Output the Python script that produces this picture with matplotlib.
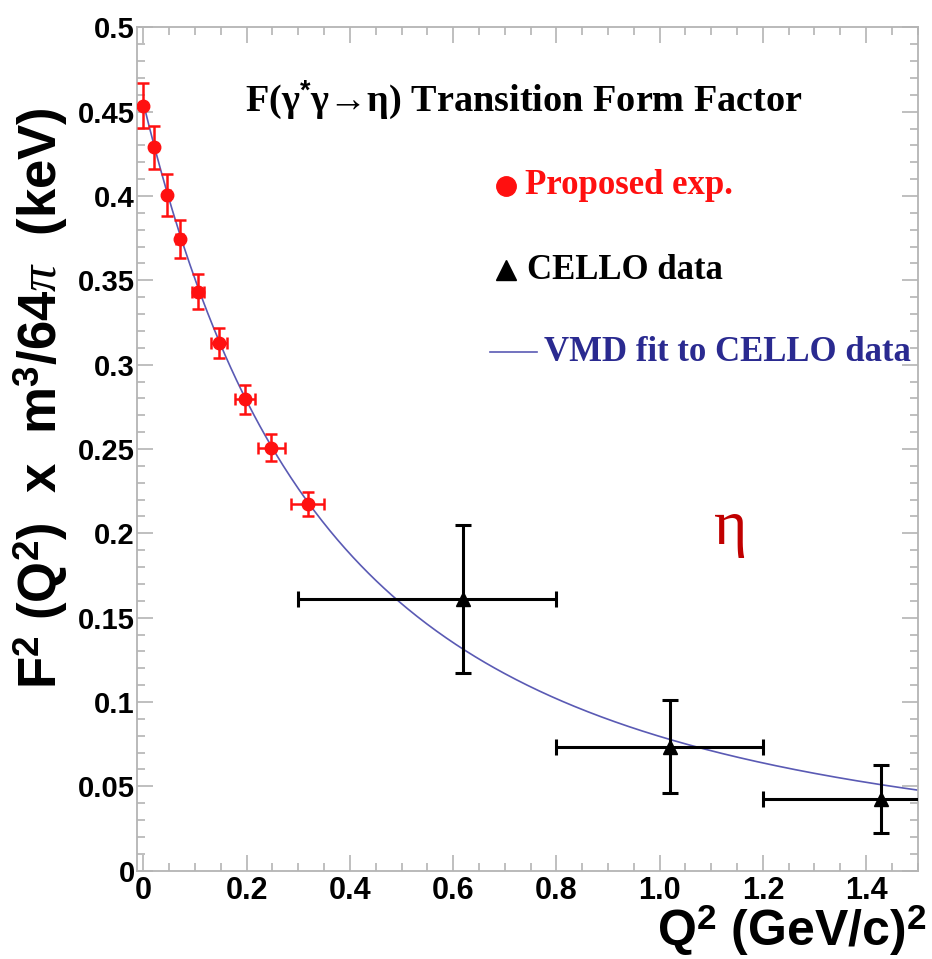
import matplotlib
matplotlib.use("Agg")
import matplotlib.pyplot as plt
import numpy as np
from matplotlib.ticker import MultipleLocator, FixedLocator, FixedFormatter

plt.rcParams["mathtext.fontset"] = "custom"
plt.rcParams["mathtext.rm"] = "Liberation Sans:bold"
plt.rcParams["mathtext.bf"] = "Liberation Sans:bold"
plt.rcParams["mathtext.it"] = "Liberation Serif:italic"

# ---- data ----
prop_q2 = [0.0, 0.021, 0.0465, 0.0705, 0.106, 0.146, 0.1965, 0.248, 0.318]
prop_f = [0.4535, 0.4288, 0.4005, 0.3746, 0.3432, 0.3130, 0.2794, 0.2507, 0.2174]
prop_yerr = [0.0133, 0.0128, 0.0123, 0.0114, 0.0104, 0.0089, 0.0087, 0.0079, 0.0070]
prop_xerr = [0.0006, 0.002, 0.0047, 0.007, 0.011, 0.016, 0.020, 0.026, 0.032]

cello_q2 = [0.619, 1.020, 1.4285]
cello_f = [0.161, 0.0735, 0.0425]
cello_yerr = [0.044, 0.0277, 0.020]
cello_xlo = [0.30, 0.80, 1.20]
cello_xhi = [0.80, 1.20, 1.80]

# VMD fit parameters: F(0)^2 m^3/64pi [keV] and Lambda^2 [GeV^2]
vmd_f0 = 0.455
vmd_lambda2 = 0.719

xticks = [0, 0.2, 0.4, 0.6, 0.8, 1.0, 1.2, 1.4]
xticklabels = ["0", "0.2", "0.4", "0.6", "0.8", "1.0", "1.2", "1.4"]
yticks = [0, 0.05, 0.1, 0.15, 0.2, 0.25, 0.3, 0.35, 0.4, 0.45, 0.5]
yticklabels = ["0", "0.05", "0.1", "0.15", "0.2", "0.25", "0.3", "0.35", "0.4", "0.45", "0.5"]

fig = plt.figure(figsize=(9.32, 9.59), dpi=100)
ax = fig.add_axes([0.1467, 0.0921, 0.838, 0.8794])

RED = "#ff1010"
CURVE = "#5a5ab4"
NAVY = "#2a2a90"
AXC = "#b4b4b4"

# VMD curve
qq = np.linspace(0, 1.5, 400)
ax.plot(qq, vmd_f0 / (1 + qq / vmd_lambda2) ** 2, color=CURVE, lw=1.2, zorder=2)

# CELLO data
xe = [np.array(cello_q2) - np.array(cello_xlo), np.array(cello_xhi) - np.array(cello_q2)]
ax.errorbar(cello_q2, cello_f, yerr=cello_yerr, xerr=xe, fmt="^", color="black",
            ms=10, elinewidth=2.2, capsize=6, capthick=2.2, zorder=3)

# Proposed experiment
ax.errorbar(prop_q2, prop_f, yerr=prop_yerr, xerr=prop_xerr, fmt="o", color=RED,
            ms=9, elinewidth=1.8, capsize=4, capthick=1.8, zorder=4)

ax.set_xlim(-0.013, 1.5)
ax.set_ylim(0, 0.5)

for s in ax.spines.values():
    s.set_color(AXC)
    s.set_linewidth(1.3)

ax.xaxis.set_major_locator(FixedLocator(xticks))
ax.xaxis.set_major_formatter(FixedFormatter(xticklabels))
ax.xaxis.set_minor_locator(MultipleLocator(0.05))
ax.yaxis.set_major_locator(FixedLocator(yticks))
ax.yaxis.set_major_formatter(FixedFormatter(yticklabels))
ax.yaxis.set_minor_locator(MultipleLocator(0.01))
ax.tick_params(which="both", direction="in", top=True, right=True, color=AXC, width=1.2)
ax.tick_params(which="major", length=11.5)
ax.tick_params(which="minor", length=5.8)
ax.tick_params(axis="x", which="major", pad=4)
ax.tick_params(axis="y", which="major", pad=1.5)
for t in ax.get_xticklabels():
    t.set_fontfamily("Liberation Sans"); t.set_fontweight("bold"); t.set_fontsize(22)
for t in ax.get_yticklabels():
    t.set_fontfamily("Liberation Sans"); t.set_fontweight("bold"); t.set_fontsize(21)

ax.set_ylabel(r"F$^{2}$ (Q$^{2}$)  x  m$^{3}$/64$\pi$  (keV)", fontfamily="Liberation Sans",
              fontweight="bold", fontsize=38)
ax.yaxis.set_label_coords(-0.086, 0.56)
fig.text(0.994, 0.001, r"Q$^{2}$ (GeV/c)$^{2}$", ha="right", va="bottom",
         fontfamily="Liberation Sans", fontweight="bold", fontsize=36)

# title and legend-like annotations
SERIF = "Liberation Serif"
ax.text(0.139, 0.914, "F(γ$^{*}$γ→η) Transition Form Factor",
        transform=ax.transAxes, ha="left", va="center",
        fontfamily=SERIF, fontweight="bold", fontsize=27.5)
ax.plot([0.473], [0.812], "o", color=RED, ms=14, transform=ax.transAxes, clip_on=False)
ax.text(0.497, 0.812, "Proposed exp.", transform=ax.transAxes, ha="left", va="center",
        fontfamily=SERIF, fontweight="bold", fontsize=25, color=RED)
ax.plot([0.473], [0.712], "^", color="black", ms=14, transform=ax.transAxes, clip_on=False)
ax.text(0.500, 0.712, "CELLO data", transform=ax.transAxes, ha="left", va="center",
        fontfamily=SERIF, fontweight="bold", fontsize=25, color="black")
ax.plot([0.452, 0.513], [0.615, 0.615], color=CURVE, lw=1.2, transform=ax.transAxes)
ax.text(0.522, 0.615, "VMD fit to CELLO data", transform=ax.transAxes, ha="left", va="center",
        fontfamily=SERIF, fontweight="bold", fontsize=25, color=NAVY)

ax.text(0.761, 0.405, "η", transform=ax.transAxes, ha="center", va="center",
        fontfamily=SERIF, fontsize=46, color="#c00000")

fig.savefig("out.png", dpi=100)
